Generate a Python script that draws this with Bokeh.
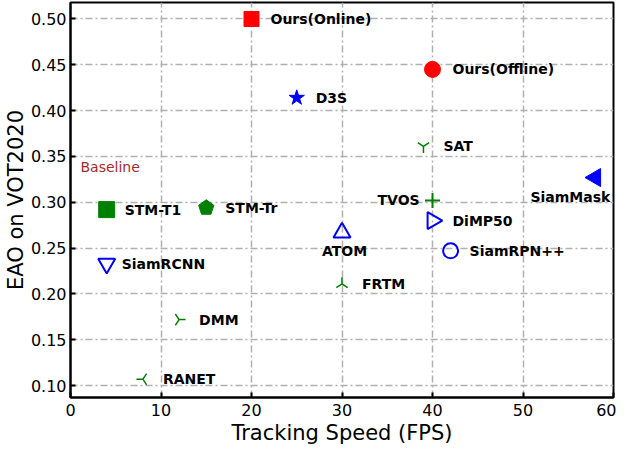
import math
from bokeh.plotting import figure
from bokeh.models import FixedTicker, NumeralTickFormatter, Range1d, Title
from bokeh.core.properties import value
from bokeh.embed import file_html
from bokeh.resources import INLINE

# ---- data ----
names = ["Ours(Online)", "Ours(Offline)", "D3S", "SAT", "SiamMask", "TVOS", "DiMP50",
         "STM-T1", "STM-Tr", "ATOM", "SiamRCNN", "SiamRPN++", "FRTM", "DMM", "RANET"]
fps = [20, 40, 25, 39, 58, 40, 40, 4, 15, 30, 4, 42, 30, 12, 8]
eao = [0.500, 0.445, 0.414, 0.361, 0.327, 0.302, 0.280, 0.292, 0.294, 0.267, 0.233,
       0.247, 0.211, 0.172, 0.107]
x_ticks = [0, 10, 20, 30, 40, 50, 60]
y_ticks = [0.10, 0.15, 0.20, 0.25, 0.30, 0.35, 0.40, 0.45, 0.50]
baseline_note = "Baseline"
baseline_pos = (1.1, 0.339)
x_title = "Tracking Speed (FPS)"
y_title = "EAO on VOT2020"

# ---- styles (marker, size, angle, fill, line, line_width) ----
RED, BLUE, GREEN = "#ff0000", "#0000ff", "#008000"
styles = {
    "Ours(Online)": ("square", 15, 0, RED, RED, 1),
    "Ours(Offline)": ("circle", 16, 0, RED, RED, 1),
    "D3S": ("star", 16, 0, BLUE, BLUE, 1),
    "SAT": ("y", 13, 0, None, GREEN, 1.5),
    "SiamMask": ("triangle", 18, math.pi / 2, BLUE, BLUE, 1),
    "TVOS": ("cross", 15, 0, None, GREEN, 2),
    "DiMP50": ("triangle", 17, -math.pi / 2, None, BLUE, 2),
    "STM-T1": ("square", 16, 0, GREEN, GREEN, 1),
    "STM-Tr": ("pentagon", 8, 0, GREEN, GREEN, 1),
    "ATOM": ("triangle", 17, 0, None, BLUE, 2),
    "SiamRCNN": ("inverted_triangle", 17, 0, None, BLUE, 2),
    "SiamRPN++": ("circle", 15, 0, None, BLUE, 2),
    "FRTM": ("y", 13, math.pi, None, GREEN, 1.5),
    "DMM": ("y", 13, math.pi / 2, None, GREEN, 1.5),
    "RANET": ("y", 13, -math.pi / 2, None, GREEN, 1.5),
}
# label offsets in screen pixels (x, y; +y is down)
label_offsets = {
    "Ours(Online)": (19, 0), "Ours(Offline)": (20, 0), "D3S": (19, 0), "SAT": (20, 0),
    "SiamMask": (-65, 19), "TVOS": (-55, 0), "DiMP50": (20, 0), "STM-T1": (18, 0),
    "STM-Tr": (19, 0), "ATOM": (-20, 18), "SiamRCNN": (15, 0), "SiamRPN++": (19, 0),
    "FRTM": (20, 0), "DMM": (20, 0), "RANET": (20, 0),
}

FONT = "DejaVu Sans"

p = figure(width=616, height=444, output_backend="svg", toolbar_location=None,
           x_range=Range1d(0, 60), y_range=Range1d(0.087, 0.518),
           min_border_top=2, min_border_right=3, min_border_left=0, min_border_bottom=0)
p.background_fill_color = "white"
p.border_fill_color = "white"
p.outline_line_color = "black"
p.outline_line_width = 2

for ax in (p.xaxis, p.yaxis):
    ax.axis_line_width = 2
    ax.axis_line_color = "black"
    ax.major_tick_in = 5
    ax.major_tick_out = 0
    ax.major_tick_line_width = 2
    ax.minor_tick_line_color = None
    ax.major_label_text_font = FONT
    ax.major_label_text_font_size = "16px"
    ax.major_label_text_color = "black"
    ax.axis_label_text_font = FONT
    ax.axis_label_text_font_size = "21px"
    ax.axis_label_text_font_style = "normal"
    ax.axis_label_text_color = "black"

p.xaxis.ticker = FixedTicker(ticks=x_ticks)
p.yaxis.ticker = FixedTicker(ticks=y_ticks)
p.yaxis.formatter = NumeralTickFormatter(format="0.00")
p.yaxis.axis_label = y_title
p.xaxis.major_label_standoff = 6
p.xaxis.major_label_text_line_height = 0.9
p.yaxis.major_label_standoff = 4
p.yaxis.axis_label_standoff = 0

# x-axis title as a bottom title
p.add_layout(Title(text=x_title, align="center", text_font=FONT, text_font_size="21px",
                   text_font_style="normal", text_color="black", standoff=0, offset=0,
                   text_line_height=0.8),
             "below")

for g in (p.xgrid, p.ygrid):
    g.grid_line_color = "#b0b0b0"
    g.grid_line_width = 1.5
    g.grid_line_dash = "7 3 2 3"

for i, name in enumerate(names):
    marker, size, angle, fill, line, lw = styles[name]
    if marker == "pentagon":
        p.ngon(x=[fps[i]], y=[eao[i]], radius=size, radius_units="screen", n=5,
               angle=0, fill_color=fill, line_color=line, line_width=lw)
    else:
        p.scatter(x=[fps[i]], y=[eao[i]], marker=marker, size=size, angle=angle,
                  fill_color=fill, fill_alpha=1.0 if fill else 0.0,
                  line_color=line, line_width=lw)

p.text(x=fps, y=eao, text=names,
       x_offset=[label_offsets[n][0] for n in names],
       y_offset=[label_offsets[n][1] for n in names],
       text_font=value(FONT), text_font_style="bold", text_font_size="14px",
       text_color="black", text_baseline="middle", text_align="left")

p.text(x=[baseline_pos[0]], y=[baseline_pos[1]], text=[baseline_note],
       text_font=value(FONT), text_font_size="14px", text_color="#a52a2a",
       text_baseline="middle", text_align="left")

open("out.html", "w").write(file_html(p, INLINE))
